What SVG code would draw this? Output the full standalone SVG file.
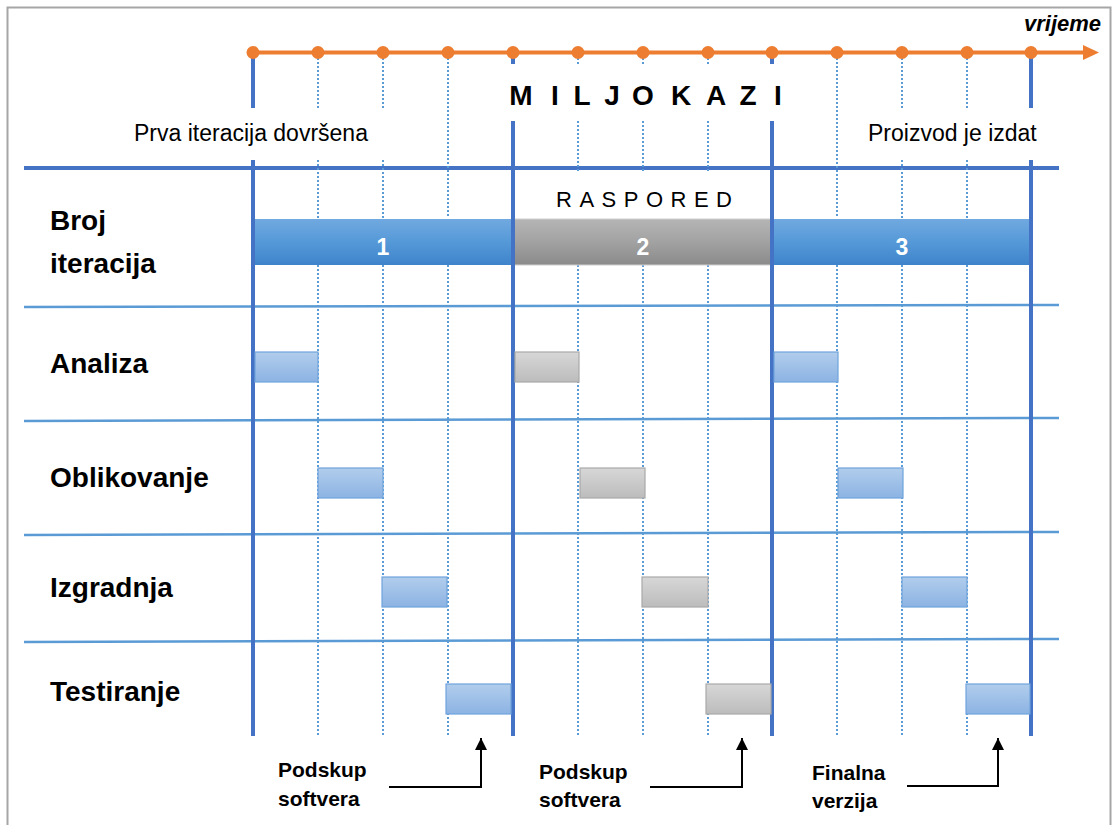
<svg xmlns="http://www.w3.org/2000/svg" width="1113" height="825" viewBox="0 0 1113 825">
<defs>
<linearGradient id="gBlue" x1="0" y1="0" x2="0" y2="1"><stop offset="0" stop-color="#71A9E0"/><stop offset="0.5" stop-color="#5599D8"/><stop offset="1" stop-color="#3F84CB"/></linearGradient>
<linearGradient id="gGray" x1="0" y1="0" x2="0" y2="1"><stop offset="0" stop-color="#B5B5B5"/><stop offset="0.5" stop-color="#A2A2A2"/><stop offset="1" stop-color="#8A8A8A"/></linearGradient>
<linearGradient id="gBlueS" x1="0" y1="0" x2="0" y2="1"><stop offset="0" stop-color="#B1CDEC"/><stop offset="1" stop-color="#8CB3E3"/></linearGradient>
<linearGradient id="gGrayS" x1="0" y1="0" x2="0" y2="1"><stop offset="0" stop-color="#D7D7D7"/><stop offset="1" stop-color="#BCBCBC"/></linearGradient>
<marker id="ah" viewBox="0 0 12 12" markerWidth="12" markerHeight="13" refX="12" refY="6" orient="auto" markerUnits="userSpaceOnUse"><path d="M0,0 L12,6 L0,12 Z" fill="#000"/></marker>
</defs>
<style>
.thick{stroke:#4472C4;stroke-width:4;fill:none}
.dot{stroke:#5B9BD5;stroke-width:2;stroke-dasharray:2 2;fill:none}
.hl{stroke:#5B9BD5;stroke-width:2.5;fill:none}
.bs{fill:url(#gBlueS);stroke:#6FA3DC;stroke-width:1.2}
.gs{fill:url(#gGrayS);stroke:#A9A9A9;stroke-width:1.2}
.lbl{font-family:"Liberation Sans",Arial,sans-serif;font-weight:bold;font-size:28px;fill:#000}
.reg{font-family:"Liberation Sans",Arial,sans-serif;font-size:23px;fill:#000}
.num{font-family:"Liberation Sans",Arial,sans-serif;font-weight:bold;font-size:23px;fill:#fff;text-anchor:middle}
.bot{font-family:"Liberation Sans",Arial,sans-serif;font-weight:bold;font-size:21px;fill:#000}
.conn{stroke:#000;stroke-width:2;fill:none}
.orange{fill:#ED7D31}
</style>
<rect x="0" y="0" width="1113" height="825" fill="#fff"/>
<rect x="7.5" y="7.5" width="1103" height="830" fill="none" stroke="#A6A6A6" stroke-width="2"/>

<g id="grid">
<line class="thick" x1="24" y1="168" x2="1059" y2="168"/>
<line class="hl" x1="24" y1="307" x2="1059" y2="305"/>
<line class="hl" x1="24" y1="421" x2="1059" y2="418"/>
<line class="hl" x1="24" y1="535" x2="1059" y2="532"/>
<line class="hl" x1="24" y1="642" x2="1059" y2="639"/>
<path class="dot" d="M318,58V108M318,160V218M318,265V736M383,58V108M383,160V218M383,265V736M448,58V218M448,265V736M578,58V64M578,121V172M578,265V736M643,58V64M643,121V172M643,265V736M708,58V64M708,121V172M708,265V736M837,58V218M837,265V736M902,58V108M902,160V218M902,265V736M967,58V108M967,160V218M967,265V736"/>
</g>

<g id="iteration-1"><rect x="253" y="219" width="260" height="46" fill="url(#gBlue)"/><text class="num" x="383" y="255">1</text></g>
<g id="iteration-2"><rect x="513" y="219" width="259" height="46" fill="url(#gGray)" stroke="#D0D0D0" stroke-width="1"/><text class="num" x="643" y="255">2</text></g>
<g id="iteration-3"><rect x="772" y="219" width="259" height="46" fill="url(#gBlue)"/><text class="num" x="902" y="255">3</text></g>

<g id="milestone-lines">
<path class="thick" d="M253,52V108M253,160V736M513,52V64M513,121V736M772,52V64M772,121V736M1031,52V108M1031,160V736"/>
</g>

<g id="timeline">
<line x1="253" y1="52.5" x2="1086" y2="52.5" stroke="#ED7D31" stroke-width="4"/>
<polygon class="orange" points="1083,45 1099,52.5 1083,60"/>
<circle class="orange" cx="253" cy="52.5" r="6.5"/>
<circle class="orange" cx="318" cy="52.5" r="6.5"/>
<circle class="orange" cx="383" cy="52.5" r="6.5"/>
<circle class="orange" cx="448" cy="52.5" r="6.5"/>
<circle class="orange" cx="513" cy="52.5" r="6.5"/>
<circle class="orange" cx="578" cy="52.5" r="6.5"/>
<circle class="orange" cx="643" cy="52.5" r="6.5"/>
<circle class="orange" cx="708" cy="52.5" r="6.5"/>
<circle class="orange" cx="772" cy="52.5" r="6.5"/>
<circle class="orange" cx="837" cy="52.5" r="6.5"/>
<circle class="orange" cx="902" cy="52.5" r="6.5"/>
<circle class="orange" cx="967" cy="52.5" r="6.5"/>
<circle class="orange" cx="1031" cy="52.5" r="6.5"/>
<text x="1024" y="31" font-family="'Liberation Sans',Arial,sans-serif" font-weight="bold" font-style="italic" font-size="22">vrijeme</text>
</g>

<g id="milestones-title"><text x="521 555 582 612 643 681 716 748 778" y="105" text-anchor="middle" font-family="'Liberation Sans',Arial,sans-serif" font-weight="bold" font-size="28">MILJOKAZI</text></g>
<g id="first-iteration-done"><text class="reg" x="134" y="141">Prva iteracija dovršena</text></g>
<g id="product-released"><text class="reg" x="868" y="141">Proizvod je izdat</text></g>
<g id="schedule-title"><text x="556" y="207" font-family="'Liberation Sans',Arial,sans-serif" font-size="22" letter-spacing="7.5">RASPORED</text></g>

<g id="row-iterations"><text class="lbl" x="50" y="230">Broj</text><text class="lbl" x="50" y="273">iteracija</text></g>

<g id="row-analiza">
<text class="lbl" x="50" y="373">Analiza</text>
<rect class="bs" x="255" y="352" width="63" height="30"/>
<rect class="gs" x="515" y="352" width="64" height="30"/>
<rect class="bs" x="774" y="352" width="64" height="30"/>
</g>
<g id="row-oblikovanje">
<text class="lbl" x="50" y="487">Oblikovanje</text>
<rect class="bs" x="318" y="468" width="65" height="30"/>
<rect class="gs" x="580" y="468" width="65" height="30"/>
<rect class="bs" x="838" y="468" width="65" height="30"/>
</g>
<g id="row-izgradnja">
<text class="lbl" x="50" y="597">Izgradnja</text>
<rect class="bs" x="382" y="577" width="65" height="30"/>
<rect class="gs" x="642" y="577" width="66" height="30"/>
<rect class="bs" x="902" y="577" width="65" height="30"/>
</g>
<g id="row-testiranje">
<text class="lbl" x="50" y="701">Testiranje</text>
<rect class="bs" x="446" y="684" width="65" height="30"/>
<rect class="gs" x="706" y="684" width="65" height="30"/>
<rect class="bs" x="966" y="684" width="64" height="30"/>
</g>

<g id="label-subset-1"><text class="bot" x="278" y="777">Podskup</text><text class="bot" x="278" y="806">softvera</text></g>
<g id="label-subset-2"><text class="bot" x="539" y="779">Podskup</text><text class="bot" x="539" y="807">softvera</text></g>
<g id="label-final"><text class="bot" x="812" y="780">Finalna</text><text class="bot" x="812" y="808">verzija</text></g>

<g id="connectors">
<path class="conn" d="M389,787H481V738" marker-end="url(#ah)"/>
<path class="conn" d="M650,787H742V738" marker-end="url(#ah)"/>
<path class="conn" d="M907,786H998V738" marker-end="url(#ah)"/>
</g>
</svg>
